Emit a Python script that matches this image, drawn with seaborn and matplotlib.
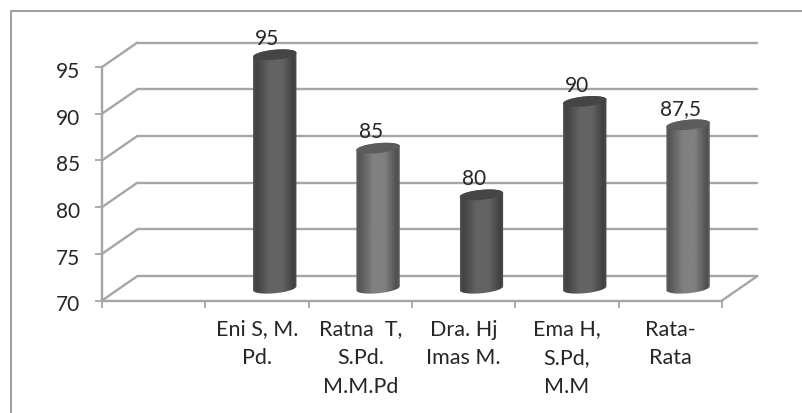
import numpy as np
import pandas as pd
import matplotlib
matplotlib.use("Agg")
import matplotlib.pyplot as plt
from matplotlib.lines import Line2D
from matplotlib.patches import Polygon
from matplotlib.transforms import ScaledTranslation
import seaborn as sns

categories = ["", "Eni S, M.\nPd.", "Ratna  T,\nS.Pd.\nM.M.Pd", "Dra. Hj\nImas M.", "Ema H,\nS.Pd,\nM.M", "Rata-\nRata"]
values = [np.nan, 95, 85, 80, 90, 87.5]
value_labels = ["", "95", "85", "80", "90", "87,5"]
tones = ["dark", "dark", "light", "dark", "dark", "light"]
y_ticks = [70, 75, 80, 85, 90, 95]

W, H, DPI = 802, 414, 100
DEPTH_X, DEPTH_Y = 35.5, 24.5
GRID = "#a6a6a6"
TEXT = "#262626"
SHADES = {"dark": [.33, .26, .39, .39, .25, .33],
          "light": [.38, .33, .50, .50, .31, .38]}
CAPS = {"dark": ".27", "light": ".36"}
GRAD_POS = [0, .07, .38, .66, .93, 1]

sns.set_theme(style="white")
plt.rcParams["font.family"] = ["Lato", "DejaVu Sans"]

fig = plt.figure(figsize=(W / DPI, H / DPI), dpi=DPI)
ax = fig.add_axes([102 / W, (H - 301.5) / H, 620 / W, 233.5 / H])

df = pd.DataFrame({"category": categories, "value": values, "tone": tones})
sns.barplot(data=df, x="category", y="value", hue="tone", dodge=False, legend=False,
            palette={"dark": ".35", "light": ".45"}, width=0.42,
            order=categories, ax=ax, zorder=3)
xlim, ylim = (-0.5, 5.5), (70, 95)
ax.set_xlim(*xlim)
ax.set_ylim(*ylim)

px = 72 / DPI  # points per pixel


def shift(dx, dy):
    return ScaledTranslation(dx / DPI, dy / DPI, fig.dpi_scale_trans)


mid = ax.transData + shift(DEPTH_X / 2, DEPTH_Y / 2)

# back wall grid, depth edges, floor
for v in y_ticks:
    ax.add_line(Line2D(xlim, [v, v], color=GRID, lw=1.7,
                       transform=ax.transData + shift(DEPTH_X, DEPTH_Y),
                       clip_on=False, zorder=1))
    x0, y0 = ax.transData.transform((xlim[0], v))
    ax.add_line(Line2D([x0, x0 + DEPTH_X], [y0, y0 + DEPTH_Y], color=GRID, lw=1.7,
                       transform=None, clip_on=False, zorder=1))
x1, y1 = ax.transData.transform((xlim[1], ylim[0]))
ax.add_line(Line2D([x1, x1 + DEPTH_X], [y1, y1 + DEPTH_Y], color=GRID, lw=1.7,
                   transform=None, clip_on=False, zorder=1))

# bars as cylinders, sized from the seaborn bar patches
y_per_px = 25 / 233.5
semi = 5.0 * y_per_px
tilt = 2.0 * y_per_px
t = np.linspace(0, np.pi, 60)
t2 = np.linspace(0, 2 * np.pi, 120)
bars = [b for b in ax.patches if np.isfinite(b.get_height()) and b.get_height() > 0]
for bar in bars:
    bar.set_visible(False)
    x_left, w = bar.get_x(), bar.get_width()
    cx, top = x_left + w / 2, bar.get_height()
    i = int(round(cx))
    tone = tones[i]
    a = w / 2
    upper = np.c_[cx + a * np.cos(t), top + semi * np.sin(t) + tilt * np.cos(t)]
    lower = np.c_[cx - a * np.cos(t), ylim[0] - semi * np.sin(t) - tilt * np.cos(t)]
    body = Polygon(np.r_[upper, lower], closed=True, transform=mid, fc="none", ec="none", clip_on=False)
    ax.add_patch(body)
    shades = np.interp(np.linspace(0, 1, 128), GRAD_POS, SHADES[tone])
    img = ax.imshow(shades[None, :], cmap="gray", vmin=0, vmax=1, aspect="auto",
                    extent=(x_left, x_left + w, ylim[0] - 2 * semi, top + 2 * semi),
                    interpolation="bilinear", zorder=3, transform=mid)
    img.set_clip_box(fig.bbox)
    img.set_clip_path(body)
    cap = Polygon(np.c_[cx + a * np.cos(t2), top + semi * np.sin(t2) + tilt * np.cos(t2)],
                  closed=True, transform=mid, fc=CAPS[tone], ec="none", zorder=4, clip_on=False)
    ax.add_patch(cap)
    ax.annotate(value_labels[i], xy=(i, top), xytext=(10.5, 29), textcoords="offset pixels",
                ha="center", va="center", fontsize=15, color=TEXT, annotation_clip=False)

ax.set_xlim(*xlim)
ax.set_ylim(*ylim)

# axes
sns.despine(ax=ax, top=True, right=True)
for s in ("left", "bottom"):
    ax.spines[s].set_color(GRID)
    ax.spines[s].set_linewidth(1.7)
ax.set_xlabel("")
ax.set_ylabel("")
ax.set_yticks(y_ticks)
ax.set_xticks(np.arange(-0.5, 6, 1), minor=False)
ax.set_xticklabels([])
ax.set_xticks(np.arange(6), labels=categories, minor=True)
ax.tick_params(axis="x", which="major", length=7 * px, width=1.3, color=GRID, bottom=True)
ax.tick_params(axis="x", which="minor", length=0, pad=13, labelsize=15.5, labelcolor=TEXT)
ax.tick_params(axis="y", length=7 * px, width=1.3, color=GRID, left=True, pad=10.5,
               labelsize=15, labelcolor=TEXT)
for lab in ax.get_yticklabels():
    lab.set_verticalalignment("center_baseline")
    lab.set_transform(lab.get_transform() + shift(0, -2))
for lab in ax.get_xticklabels(minor=True):
    lab.set_linespacing(1.55)
    lab.set_horizontalalignment("center")

# picture frame (top and left only)
fig.add_artist(Line2D([10.5 / W, 10.5 / W, 1], [0, 1 - 11.5 / H, 1 - 11.5 / H],
                      color="#8c8c8c", lw=1.2, transform=fig.transFigure))

fig.savefig("out.png", dpi=DPI, facecolor="white")
